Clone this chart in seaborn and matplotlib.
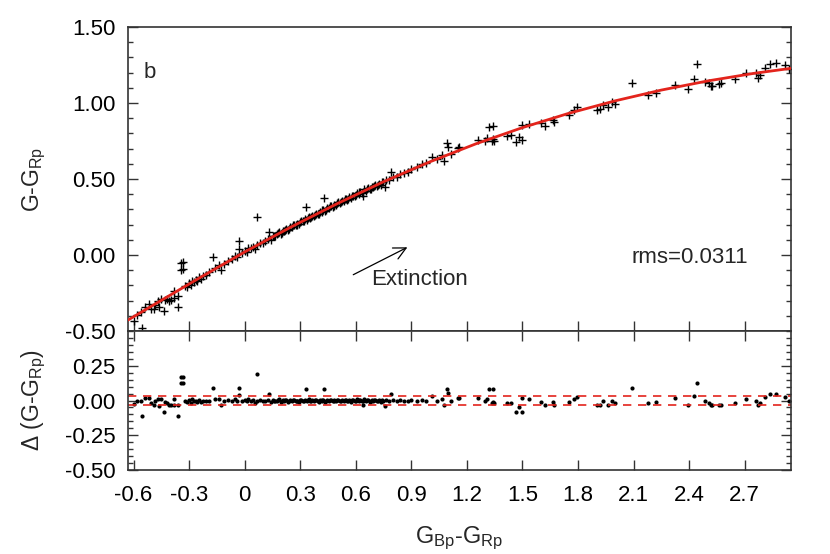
import matplotlib
matplotlib.use('Agg')
import matplotlib.pyplot as plt
import numpy as np
import seaborn as sns
from matplotlib.ticker import MultipleLocator, FixedLocator, FormatStrFormatter

# G_Bp - G_Rp colour of each star
bp_rp = [
    -0.600, -0.580, -0.560, -0.540, -0.555, -0.515, -0.505, -0.490,
    -0.483, -0.470, -0.460, -0.450, -0.436, -0.432, -0.418, -0.410,
    -0.396, -0.382, -0.382, -0.360, -0.360, -0.346, -0.333, -0.346,
    -0.332, -0.320, -0.310, -0.300, -0.290, -0.285, -0.275, -0.265,
    -0.255, -0.245, -0.235, -0.225, -0.210, -0.190, -0.171, -0.162,
    -0.140, -0.126, -0.110, -0.090, -0.070, -0.050, -0.040, -0.030,
    -0.030, -0.015, 0.000, 0.010, 0.020, 0.035, 0.045, 0.058,
    0.065, 0.065, 0.085, 0.100, 0.110, 0.125, 0.130, 0.140,
    0.155, 0.165, 0.175, 0.185, 0.195, 0.205, 0.215, 0.225, 0.235, 0.245,
    0.255, 0.265, 0.275, 0.285, 0.295, 0.305, 0.315, 0.325, 0.335, 0.345,
    0.355, 0.365, 0.375, 0.385, 0.395, 0.405, 0.415, 0.425, 0.435, 0.445,
    0.455, 0.465, 0.475, 0.485, 0.495, 0.505, 0.515, 0.525, 0.535, 0.545,
    0.555, 0.565, 0.575, 0.585, 0.595, 0.605, 0.615, 0.625, 0.635, 0.645,
    0.655, 0.665, 0.675, 0.685, 0.695, 0.705, 0.715, 0.725, 0.735, 0.745,
    0.16, 0.18, 0.20, 0.22, 0.24, 0.26, 0.28, 0.30, 0.32, 0.34,
    0.36, 0.38, 0.40, 0.42, 0.44, 0.46, 0.48, 0.50, 0.52, 0.54,
    0.56, 0.58, 0.60, 0.62, 0.64, 0.66, 0.68, 0.70, 0.72, 0.74,
    0.330, 0.430, 0.640, 0.757, 0.765, 0.780, 0.790, 0.800,
    0.820, 0.840, 0.860, 0.880, 0.900, 0.930, 0.960, 0.980,
    1.009, 1.036, 1.067, 1.076, 1.090, 1.100, 1.114, 1.150, 1.160, 1.260,
    1.300, 1.310, 1.320, 1.340, 1.340, 1.345, 1.335, 1.414, 1.436, 1.465,
    1.480, 1.500, 1.500, 1.537, 1.600, 1.620, 1.667, 1.670, 1.751, 1.780,
    1.793, 1.900, 1.920, 1.933, 1.960, 1.986, 2.000, 2.094, 2.180, 2.220,
    2.324, 2.393, 2.427, 2.445, 2.483, 2.508, 2.517, 2.526, 2.562, 2.570,
    2.650, 2.706, 2.760, 2.770, 2.780, 2.807, 2.838, 2.868, 2.915, 2.940,
]

# G - G_Rp of each star
g_grp = [
    -0.431, -0.392, -0.377, -0.343, -0.483, -0.325, -0.353, -0.357,
    -0.327, -0.303, -0.345, -0.288, -0.368, -0.296, -0.291, -0.305,
    -0.295, -0.240, -0.285, -0.344, -0.269, -0.100, -0.091, -0.054,
    -0.045, -0.206, -0.209, -0.187, -0.200, -0.171, -0.179, -0.167,
    -0.170, -0.147, -0.155, -0.138, -0.132, -0.113, -0.012, -0.083,
    -0.068, -0.098, -0.057, -0.038, -0.029, -0.005, -0.013, 0.089,
    0.039, 0.010, 0.025, 0.022, 0.043, 0.043, 0.055, 0.038,
    0.063, 0.253, 0.081, 0.081, 0.092, 0.107, 0.153, 0.102,
    0.127, 0.123, 0.135, 0.149, 0.140, 0.157, 0.157, 0.174, 0.164, 0.183,
    0.182, 0.200, 0.196, 0.206, 0.204, 0.223, 0.222, 0.234, 0.230, 0.251,
    0.245, 0.257, 0.254, 0.272, 0.271, 0.285, 0.281, 0.295, 0.290, 0.308,
    0.307, 0.323, 0.317, 0.331, 0.331, 0.346, 0.340, 0.355, 0.356, 0.370,
    0.365, 0.379, 0.373, 0.389, 0.389, 0.406, 0.401, 0.415, 0.410, 0.432,
    0.423, 0.439, 0.431, 0.448, 0.448, 0.460, 0.457, 0.470, 0.463, 0.479,
    0.122, 0.142, 0.145, 0.166, 0.173, 0.195, 0.195, 0.218, 0.225, 0.245,
    0.247, 0.266, 0.268, 0.293, 0.298, 0.320, 0.320, 0.341, 0.348, 0.366,
    0.366, 0.386, 0.392, 0.413, 0.416, 0.434, 0.436, 0.455, 0.460, 0.479,
    0.313, 0.375, 0.389, 0.446, 0.493, 0.493, 0.548, 0.510,
    0.516, 0.533, 0.540, 0.546, 0.564, 0.576, 0.597, 0.603,
    0.647, 0.630, 0.655, 0.619, 0.740, 0.708, 0.662, 0.704, 0.709, 0.756,
    0.753, 0.767, 0.842, 0.850, 0.760, 0.752, 0.751, 0.782, 0.791, 0.743,
    0.779, 0.758, 0.858, 0.862, 0.866, 0.848, 0.891, 0.872, 0.919, 0.952,
    0.971, 0.951, 0.958, 0.987, 0.971, 1.009, 0.994, 1.131, 1.050, 1.066,
    1.118, 1.089, 1.157, 1.257, 1.136, 1.132, 1.113, 1.115, 1.127, 1.129,
    1.155, 1.196, 1.197, 1.163, 1.185, 1.229, 1.255, 1.264, 1.247, 1.226,
]

# residual of each star about the fitted relation
delta_g = [
    -0.025, 0.000, 0.000, 0.020, -0.110, 0.020, -0.015, -0.030,
    -0.005, 0.010, -0.040, 0.010, -0.080, -0.010, -0.015, -0.035,
    -0.035, 0.010, -0.035, -0.110, -0.035, 0.124, 0.124, 0.170,
    0.170, 0.000, -0.010, 0.005, -0.015, 0.010, -0.005, 0.000,
    -0.010, 0.005, -0.010, 0.000, -0.005, 0.000, 0.088, 0.010,
    0.010, -0.030, 0.000, 0.005, 0.000, 0.010, -0.005, 0.090,
    0.040, 0.000, 0.005, -0.005, 0.010, 0.000, 0.005, -0.020,
    0.000, 0.190, 0.005, -0.005, 0.000, 0.005, 0.048, -0.010,
    0.005, -0.005, 0.000, 0.008, -0.008, 0.003, -0.004, 0.006, -0.010, 0.002,
    -0.005, 0.007, -0.003, 0.000, -0.008, 0.005, -0.002, 0.004, -0.006, 0.008,
    -0.004, 0.002, -0.007, 0.005, -0.002, 0.006, -0.005, 0.003, -0.008, 0.004,
    -0.003, 0.007, -0.006, 0.002, -0.004, 0.005, -0.007, 0.003, -0.002, 0.006,
    -0.005, 0.004, -0.008, 0.002, -0.004, 0.008, -0.003, 0.005, -0.006, 0.010,
    -0.004, 0.006, -0.008, 0.003, -0.002, 0.004, -0.005, 0.002, -0.010, 0.000,
    -0.003, 0.004, -0.006, 0.002, -0.004, 0.005, -0.007, 0.003, -0.002, 0.006,
    -0.005, 0.002, -0.008, 0.004, -0.003, 0.007, -0.006, 0.003, -0.002, 0.005,
    -0.007, 0.002, -0.004, 0.006, -0.003, 0.004, -0.006, 0.002, -0.005, 0.003,
    0.080, 0.080, -0.030, -0.040, 0.003, -0.005, 0.045, 0.002,
    -0.003, 0.004, 0.000, -0.004, 0.003, 0.000, 0.005, 0.000,
    0.030, 0.000, 0.010, -0.030, 0.084, 0.052, -0.005, 0.020, 0.020, 0.020,
    0.000, 0.010, 0.080, 0.080, -0.010, -0.020, -0.015, -0.020, -0.020, -0.080,
    -0.050, -0.080, 0.020, 0.010, -0.010, -0.035, -0.010, -0.030, -0.013, 0.010,
    0.025, -0.030, -0.030, -0.005, -0.030, 0.000, -0.020, 0.090, -0.015, -0.010,
    0.015, -0.030, 0.030, 0.125, -0.005, -0.015, -0.035, -0.035, -0.030, -0.030,
    -0.020, 0.010, 0.000, -0.035, -0.015, 0.025, 0.045, 0.050, 0.025, 0.000,
]

# fitted relation, sampled along the curve
fit_x = [-0.63, -0.50, -0.25, 0.00, 0.25, 0.50, 0.75, 1.00,
         1.25, 1.50, 1.75, 2.00, 2.25, 2.50, 2.75, 2.95]
fit_y = [-0.428, -0.334, -0.155, 0.020, 0.184, 0.338, 0.482, 0.613,
         0.732, 0.838, 0.932, 1.014, 1.085, 1.145, 1.195, 1.228]

rms = 0.0311

x_ticks = [-0.6, -0.3, 0.0, 0.3, 0.6, 0.9, 1.2, 1.5, 1.8, 2.1, 2.4, 2.7]
x_tick_labels = ['-0.6', '-0.3', '0', '0.3', '0.6', '0.9', '1.2', '1.5',
                 '1.8', '2.1', '2.4', '2.7']

assert len(bp_rp) == len(g_grp) == len(delta_g)

sns.set_theme(style='ticks')
plt.rcParams['font.family'] = ['Liberation Sans', 'DejaVu Sans']
plt.rcParams['mathtext.fontset'] = 'custom'
plt.rcParams['mathtext.rm'] = 'Liberation Sans'
plt.rcParams['mathtext.it'] = 'Liberation Sans:italic'
plt.rcParams['mathtext.default'] = 'rm'

fig = plt.figure(figsize=(8.3, 5.54), dpi=100)
ax_top = fig.add_axes([0.1542, 0.4025, 0.7988, 0.5488])
ax_bot = fig.add_axes([0.1542, 0.1516, 0.7988, 0.2509], sharex=ax_top)

red = '#e3241c'

# upper panel: data and fitted relation
sns.scatterplot(x=bp_rp, y=g_grp, marker='+', color='black', s=40,
                linewidth=1.0, ax=ax_top)
sns.lineplot(x=fit_x, y=fit_y, color=red, linewidth=2.0, sort=False,
             ax=ax_top, zorder=3)

ax_top.text(0.024, 0.85, 'b', transform=ax_top.transAxes, fontsize=16,
            va='center', ha='left')
ax_top.text(0.76, 0.243, f'rms={rms}', transform=ax_top.transAxes,
            fontsize=16, va='center', ha='left')
ax_top.text(0.366, 0.168, 'Extinction', transform=ax_top.transAxes,
            fontsize=16, va='center', ha='left')
ax_top.annotate('', xy=(0.892, 0.059), xytext=(0.573, -0.138),
                arrowprops=dict(arrowstyle='->', color='black', lw=0.9,
                                mutation_scale=22))

# lower panel: residuals
sns.scatterplot(x=bp_rp, y=delta_g, marker='o', color='black', s=9,
                linewidth=0, ax=ax_bot)
for level in (rms, -rms):
    ax_bot.axhline(level, color=red, linestyle=(0, (5, 4)), linewidth=1.2,
                   zorder=1)

ax_top.set_xlim(-0.63, 2.95)
ax_top.set_ylim(-0.5, 1.5)
ax_bot.set_ylim(-0.5, 0.5)

ax_top.yaxis.set_major_locator(MultipleLocator(0.5))
ax_top.yaxis.set_minor_locator(MultipleLocator(0.1))
ax_top.yaxis.set_major_formatter(FormatStrFormatter('%.2f'))
ax_bot.yaxis.set_major_locator(FixedLocator([-0.5, -0.25, 0.0, 0.25]))
ax_bot.yaxis.set_minor_locator(MultipleLocator(0.05))
ax_bot.yaxis.set_major_formatter(FormatStrFormatter('%.2f'))

ax_bot.set_xticks(x_ticks)
ax_bot.set_xticklabels(x_tick_labels)
ax_bot.xaxis.set_minor_locator(FixedLocator([]))

for ax in (ax_top, ax_bot):
    for sp in ax.spines.values():
        sp.set_linewidth(1.2)
        sp.set_color('#333333')
    ax.tick_params(axis='both', which='both', direction='in', left=True,
                   right=True, bottom=True, width=1.0, colors='#333333',
                   labelcolor='black', labelsize=16)
    ax.tick_params(axis='y', which='major', length=7, pad=9)
    ax.tick_params(axis='y', which='minor', length=3.5)
    ax.tick_params(axis='x', which='major', length=7, pad=11)

ax_top.tick_params(axis='x', top=False, labelbottom=False)
ax_bot.tick_params(axis='x', top=True)

ax_top.set_ylabel('G-G$_{Rp}$', fontsize=16.5)
ax_bot.set_ylabel('Δ (G-G$_{Rp}$)', fontsize=16.5)
ax_bot.set_xlabel('G$_{Bp}$-G$_{Rp}$', fontsize=17)
ax_top.yaxis.set_label_coords(-0.12, 0.5)
ax_bot.yaxis.set_label_coords(-0.12, 0.5)
ax_bot.xaxis.set_label_coords(0.5, -0.39)

fig.savefig('out.png', dpi=100, facecolor='white')
